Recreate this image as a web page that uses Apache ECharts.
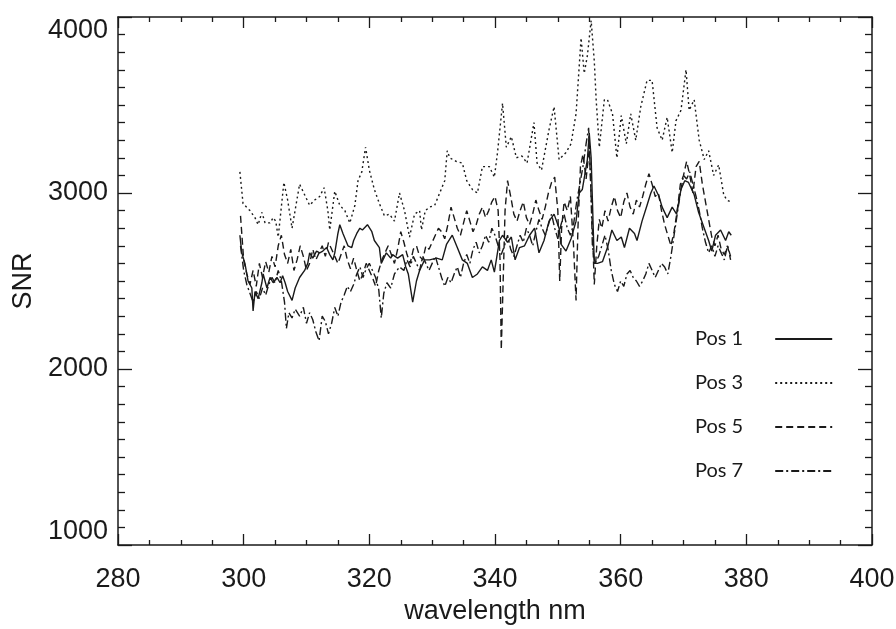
<!DOCTYPE html>
<html>
<head>
<meta charset="utf-8">
<script src="https://cdn.jsdelivr.net/npm/echarts@6/dist/echarts.min.js"></script>
<style>
html,body{margin:0;padding:0;background:#fff;}
#chart{width:896px;height:629px;}
</style>
</head>
<body>
<div id="chart"></div>
<script>
// Series names
const seriesNames = ['Pos 1', 'Pos 3', 'Pos 5', 'Pos 7'];

// Axis tick settings (values)
const xMin = 280, xMax = 400, xStep = 20;
const yMin = 1000, yMax = 4000, yStep = 1000;

// Pos 1 (solid): [wavelength nm, SNR]
const pos1 = [[299.4,2760],[299.7,2660],[300.2,2600],[300.7,2500],[301.3,2460],[301.5,2330],[301.8,2440],[302.3,2400],[302.9,2490],[303.1,2540],[303.7,2460],[304.2,2520],[304.7,2490],[305.3,2520],[305.8,2490],[306.2,2530],[306.6,2490],[307.0,2440],[307.7,2390],[308.2,2460],[308.9,2520],[309.7,2560],[310.2,2600],[310.5,2660],[311.0,2630],[311.6,2670],[312.1,2660],[312.6,2670],[313.2,2690],[313.7,2650],[314.2,2620],[314.5,2660],[315.0,2770],[315.3,2820],[315.8,2770],[316.1,2760],[316.6,2700],[317.2,2690],[317.5,2730],[318.0,2770],[318.5,2800],[318.9,2790],[319.7,2820],[320.4,2780],[320.8,2730],[321.6,2690],[321.9,2600],[322.3,2630],[322.7,2660],[323.4,2630],[323.7,2650],[324.5,2630],[325.3,2650],[325.8,2580],[326.2,2540],[326.9,2380],[327.5,2500],[328.0,2560],[328.8,2620],[329.6,2620],[330.7,2630],[331.6,2620],[332.3,2710],[333.2,2760],[334.0,2690],[334.8,2620],[335.6,2600],[336.4,2520],[337.2,2540],[338.0,2580],[338.8,2560],[339.4,2620],[339.9,2550],[340.7,2730],[341.2,2760],[342.0,2720],[342.6,2750],[343.2,2620],[343.9,2690],[344.7,2700],[345.5,2760],[346.3,2800],[347.0,2660],[347.8,2730],[348.6,2840],[349.4,2880],[350.2,2800],[350.5,2710],[351.3,2670],[352.1,2740],[352.9,2840],[353.4,3000],[353.9,3020],[354.7,3190],[355.0,3340],[355.3,3200],[355.5,2960],[355.8,2600],[356.3,2600],[357.1,2610],[357.9,2690],[358.6,2790],[359.4,2730],[360.1,2750],[360.6,2690],[361.4,2800],[362.2,2770],[362.6,2730],[363.4,2840],[364.2,2930],[364.8,3000],[365.3,3040],[366.1,2980],[366.6,2920],[367.4,2860],[368.2,2920],[368.9,2880],[369.6,3020],[370.2,3070],[370.8,3060],[371.7,2990],[372.4,2890],[373.3,2800],[374.0,2730],[374.5,2670],[375.1,2760],[375.9,2790],[376.7,2730],[377.2,2780],[377.6,2760]];

// Pos 3 (dotted)
const pos3 = [[299.4,3120],[299.9,2940],[301.0,2900],[301.8,2860],[302.3,2820],[302.9,2890],[303.4,2830],[304.2,2830],[304.7,2860],[305.1,2840],[305.5,2750],[306.4,3060],[307.0,2960],[307.7,2800],[308.9,3050],[309.7,2990],[310.5,2930],[311.3,2960],[312.1,2980],[312.8,3030],[313.4,2900],[313.7,2790],[314.5,3010],[315.3,2930],[316.1,2900],[316.9,2830],[317.7,2930],[318.2,3070],[318.8,3120],[319.4,3260],[320.0,3130],[320.8,3020],[321.6,2940],[322.4,2870],[323.2,2880],[324.0,2840],[324.8,3000],[325.6,2900],[326.4,2750],[327.2,2880],[328.0,2900],[328.3,2790],[328.9,2900],[329.6,2920],[330.4,2930],[331.2,3000],[332.0,3070],[332.4,3240],[332.8,3200],[333.8,3180],[334.8,3170],[335.5,3070],[336.4,3020],[337.2,3000],[338.0,3150],[339.1,3150],[339.9,3090],[340.4,3230],[341.2,3510],[341.8,3260],[342.6,3320],[343.4,3200],[344.3,3210],[345.1,3170],[346.2,3400],[346.7,3170],[347.4,3130],[348.6,3360],[349.4,3490],[350.2,3190],[351.3,3230],[352.1,3280],[352.9,3450],[353.7,3880],[354.2,3680],[354.7,3780],[355.3,3980],[355.8,3750],[356.1,3530],[356.6,3260],[357.4,3530],[357.9,3530],[358.7,3450],[359.4,3200],[360.1,3440],[360.9,3280],[361.6,3450],[362.4,3300],[363.2,3490],[364.2,3640],[365.0,3640],[365.8,3370],[366.6,3300],[367.4,3430],[368.2,3230],[368.8,3410],[369.6,3470],[370.4,3700],[370.9,3470],[371.7,3530],[372.5,3300],[373.3,3190],[374.0,3240],[374.8,3100],[375.6,3160],[376.4,2990],[376.9,2960],[377.5,2950]];

// Pos 5 (dashed)
const pos5 = [[299.5,2870],[300.0,2620],[300.5,2540],[301.0,2480],[301.5,2560],[302.0,2470],[302.5,2600],[303.0,2520],[303.5,2610],[304.0,2550],[304.5,2640],[305.0,2580],[305.5,2700],[306.0,2760],[306.5,2650],[307.0,2600],[307.5,2680],[308.0,2560],[308.5,2620],[309.0,2700],[309.5,2640],[310.0,2560],[310.5,2600],[311.0,2680],[311.5,2620],[312.0,2660],[312.5,2700],[313.0,2640],[313.5,2720],[314.0,2680],[314.5,2640],[315.0,2600],[315.5,2650],[316.0,2700],[316.5,2620],[317.0,2570],[317.5,2630],[318.0,2560],[318.5,2500],[319.0,2540],[319.5,2600],[320.0,2560],[320.5,2520],[321.0,2470],[321.5,2560],[322.0,2620],[322.5,2660],[323.0,2700],[323.5,2650],[324.0,2600],[324.5,2680],[325.0,2780],[325.5,2720],[326.0,2650],[326.5,2600],[327.0,2680],[327.5,2700],[328.0,2640],[328.5,2620],[329.0,2700],[329.5,2680],[330.0,2720],[330.5,2760],[331.0,2800],[331.5,2780],[332.0,2740],[332.5,2820],[333.0,2920],[333.5,2860],[334.0,2800],[334.5,2760],[335.0,2830],[335.5,2900],[336.0,2840],[336.5,2780],[337.0,2820],[337.5,2880],[338.0,2920],[338.5,2860],[339.0,2900],[339.5,2950],[340.0,2980],[340.5,2900],[340.8,2620],[341.0,2110],[341.3,2500],[341.6,2900],[342.0,3070],[342.5,2980],[343.0,2880],[343.5,2840],[344.0,2900],[344.5,2950],[345.0,2860],[345.5,2820],[346.0,2880],[346.5,2960],[347.0,2900],[347.5,2850],[348.0,2920],[348.5,3000],[349.0,3060],[349.5,3090],[350.0,2900],[350.3,2500],[350.6,2800],[351.0,2950],[351.5,2900],[352.0,2980],[352.5,2700],[352.9,2390],[353.2,2800],[353.6,3150],[354.0,3220],[354.5,3080],[355.0,3250],[355.4,2900],[355.8,2480],[356.2,2700],[356.6,2850],[357.0,2800],[357.5,2900],[358.0,2840],[358.5,2920],[359.0,2980],[359.5,2900],[360.0,2860],[360.5,2950],[361.0,3000],[361.5,2920],[362.0,2880],[362.5,2960],[363.0,2920],[363.5,2980],[364.0,3050],[364.5,3110],[365.0,3050],[365.5,2980],[366.0,3000],[366.5,2900],[367.0,2820],[367.5,2760],[368.0,2700],[368.5,2780],[369.0,2900],[369.5,3050],[370.0,3100],[370.5,3180],[371.0,3100],[371.5,3000],[372.0,3150],[372.5,3180],[373.0,3050],[373.5,2950],[374.0,2850],[374.5,2750],[375.0,2700],[375.5,2760],[376.0,2680],[376.5,2650],[377.0,2700],[377.5,2620]];

// Pos 7 (dash-dot)
const pos7 = [[299.5,2700],[300.0,2560],[300.5,2480],[301.0,2430],[301.5,2380],[302.0,2440],[302.5,2400],[303.0,2460],[303.5,2420],[304.0,2480],[304.5,2520],[305.0,2490],[305.5,2560],[306.0,2500],[306.5,2380],[306.8,2230],[307.2,2320],[307.7,2290],[308.2,2340],[308.9,2300],[309.5,2350],[310.0,2260],[310.5,2320],[311.0,2280],[311.5,2210],[312.0,2160],[312.5,2300],[313.0,2270],[313.5,2200],[314.0,2260],[314.5,2350],[315.0,2300],[315.5,2380],[316.0,2420],[316.5,2470],[317.0,2440],[317.5,2480],[318.0,2540],[318.5,2580],[319.0,2520],[319.5,2570],[320.0,2600],[320.5,2560],[321.0,2520],[321.5,2450],[321.9,2290],[322.3,2430],[322.8,2490],[323.4,2460],[324.0,2540],[324.8,2580],[325.5,2560],[326.0,2620],[326.5,2580],[327.0,2640],[327.5,2600],[328.0,2560],[328.5,2640],[329.0,2600],[329.5,2560],[330.0,2600],[330.5,2640],[331.0,2580],[331.5,2520],[332.0,2470],[332.5,2520],[333.0,2490],[333.5,2540],[334.0,2580],[334.5,2520],[335.0,2600],[335.5,2650],[336.0,2600],[336.5,2680],[337.0,2720],[337.5,2660],[338.0,2700],[338.5,2760],[339.0,2720],[339.5,2800],[340.0,2760],[340.5,2700],[341.0,2650],[341.5,2700],[342.0,2760],[342.5,2680],[343.0,2640],[343.5,2700],[344.0,2760],[344.5,2720],[345.0,2800],[345.5,2760],[346.0,2700],[346.5,2780],[347.0,2850],[347.5,2800],[348.0,2760],[348.5,2820],[349.0,2880],[349.5,2800],[350.0,2740],[350.5,2820],[351.0,2880],[351.5,2800],[352.0,2760],[352.5,2820],[353.0,2950],[353.5,3050],[354.0,3150],[354.5,3280],[354.9,3370],[355.2,3100],[355.5,2700],[355.9,2600],[356.5,2640],[357.0,2700],[357.5,2760],[358.0,2680],[358.5,2560],[359.0,2480],[359.5,2440],[360.0,2500],[360.5,2470],[361.0,2540],[361.5,2560],[362.0,2520],[362.5,2500],[363.0,2470],[363.5,2500],[364.0,2540],[364.5,2600],[365.0,2560],[365.5,2520],[366.0,2560],[366.5,2600],[367.0,2580],[367.5,2540],[368.0,2640],[368.5,2760],[369.0,2880],[369.5,3000],[370.0,3100],[370.5,3080],[371.0,3120],[371.5,3050],[372.0,2980],[372.5,2900],[373.0,2800],[373.5,2720],[374.0,2660],[374.5,2700],[375.0,2640],[375.5,2700],[376.0,2660],[376.5,2620],[377.0,2700],[377.5,2640]];

const seriesData = [pos1, pos3, pos5, pos7];
const dashStyles = ['solid', [2, 3], [7, 4], [8, 3, 2, 3]];

const axisFont = "'Liberation Sans', Arial, sans-serif";
const ink = '#1a1a1a';

const chart = echarts.init(document.getElementById('chart'), null, {renderer: 'canvas'});

const xAxisCommon = {
  type: 'value', min: xMin, max: xMax, interval: xStep,
  axisLine: {show: true, onZero: false, lineStyle: {color: ink, width: 1.5}},
  axisTick: {show: true, inside: true, length: 11, lineStyle: {color: ink, width: 1.3}},
  minorTick: {show: true, splitNumber: 4, length: 5, lineStyle: {color: ink, width: 1.3}},
  splitLine: {show: false}
};
const yAxisCommon = {
  type: 'value', min: yMin, max: yMax, interval: yStep,
  axisLine: {show: true, onZero: false, lineStyle: {color: ink, width: 1.5}},
  axisTick: {show: true, inside: true, length: 14, lineStyle: {color: ink, width: 1.3}},
  minorTick: {show: true, splitNumber: 10, length: 7, lineStyle: {color: ink, width: 1.3}},
  splitLine: {show: false}
};
const plain = v => String(v);

chart.setOption({
  backgroundColor: '#fff',
  animation: false,
  grid: {left: 118, right: 24, top: 17, bottom: 84, containLabel: false, outerBoundsMode: 'none'},
  legend: {
    data: seriesNames,
    orient: 'vertical',
    left: 690, top: 324,
    align: 'right',
    itemWidth: 57, itemHeight: 14, itemGap: 24,
    itemStyle: {color: 'transparent', borderColor: 'transparent', borderWidth: 0},
    textStyle: {fontFamily: "Lato, 'Open Sans', sans-serif", fontSize: 20, color: ink, padding: [0, 27, 0, 0]}
  },
  xAxis: [
    Object.assign({}, xAxisCommon, {
      position: 'bottom',
      name: 'wavelength nm', nameLocation: 'middle', nameGap: 51,
      nameTextStyle: {fontFamily: axisFont, fontSize: 27, color: ink},
      axisLabel: {show: true, margin: 21, fontFamily: axisFont, fontSize: 27, color: ink, formatter: plain}
    }),
    Object.assign({}, xAxisCommon, {position: 'top', axisLabel: {show: false}})
  ],
  yAxis: [
    Object.assign({}, yAxisCommon, {
      position: 'left',
      name: 'SNR', nameLocation: 'middle', nameGap: 72,
      nameTextStyle: {fontFamily: axisFont, fontSize: 27, color: ink},
      axisLabel: {show: true, margin: 10, fontFamily: axisFont, fontSize: 27, color: ink, formatter: plain,
        verticalAlignMinLabel: 'bottom', verticalAlignMaxLabel: 'top'}
    }),
    Object.assign({}, yAxisCommon, {position: 'right', axisLabel: {show: false}})
  ],
  series: seriesNames.map((name, i) => ({
    name: name,
    type: 'line',
    xAxisIndex: 0, yAxisIndex: 0,
    data: seriesData[i],
    symbol: 'none',
    showSymbol: false,
    smooth: false,
    lineStyle: {color: ink, width: 1.4, type: dashStyles[i]},
    itemStyle: {color: ink}
  }))
});
</script>
</body>
</html>
